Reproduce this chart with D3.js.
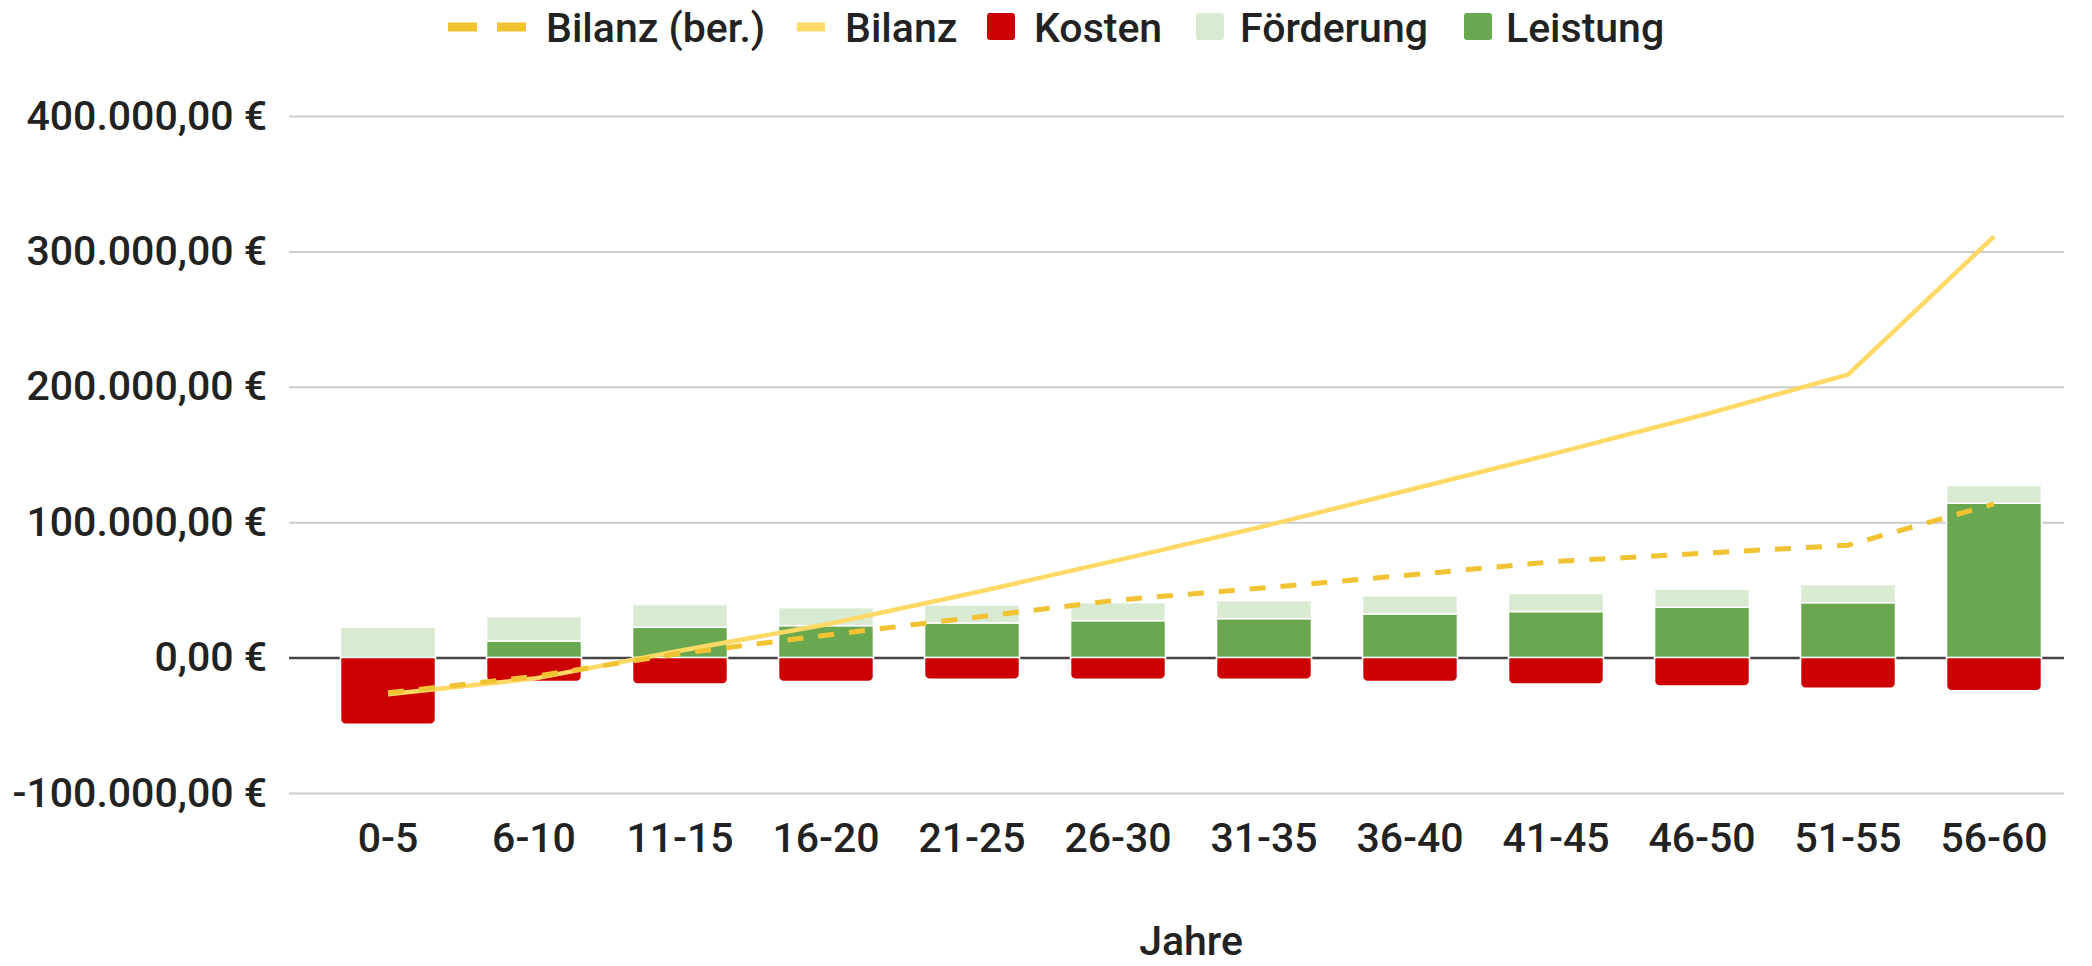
<!DOCTYPE html>
<html>
<head>
<meta charset="utf-8">
<script src="https://cdn.jsdelivr.net/npm/d3@7"></script>
<style>
  body { margin: 0; background: #fff; }
  text { font-family: Roboto, "Noto Sans", sans-serif; fill: #222; font-weight: 500; }
</style>
</head>
<body>
<script>
// data
const categories = ["0-5", "6-10", "11-15", "16-20", "21-25", "26-30", "31-35", "36-40", "41-45", "46-50", "51-55", "56-60"];
const leistung   = [0, 12300, 22400, 23600, 25600, 27300, 28800, 32300, 34000, 37200, 40600, 114000];
const foerderung = [22400, 18000, 16800, 13300, 13300, 13300, 13300, 13300, 13300, 13300, 13300, 13100];
const kosten     = [-49300, -17700, -19500, -17700, -16000, -16000, -16000, -17700, -19500, -20900, -22700, -24400];
const bilanz     = [-27000, -15500, 5000, 24500, 47500, 72000, 97000, 124000, 151000, 179000, 209000, 311000];
const bilanzBer  = [-26000, -14000, 3000, 16500, 29500, 42500, 51500, 61000, 71000, 77000, 83000, 113500];
const yTicks     = [-100000, 0, 100000, 200000, 300000, 400000];

const width = 2092;
const height = 966;
const gridLeft = 289, gridRight = 2064;

const svg = d3.select("body")
    .append("svg")
    .attr("width", width)
    .attr("height", height);

const de = d3.formatLocale({
    decimal: ",",
    thousands: ".",
    grouping: [3],
    currency: ["", " €"],
    minus: "-"
});
const fmt = de.format("$,.2f");

// X scale
const x = d3.scaleBand()
    .domain(categories)
    .range([315, 2067])
    .paddingInner(0.35)
    .paddingOuter(0.175);

// Y scale
const y = d3.scaleLinear()
    .domain([-100000, 400000])
    .range([793, 116]);

// y axis + gridlines
const yAxis = svg.append("g")
    .attr("transform", `translate(${gridLeft},0)`)
    .call(d3.axisLeft(y)
        .tickValues(yTicks)
        .tickSize(-(gridRight - gridLeft))
        .tickPadding(22)
        .tickFormat(fmt));
yAxis.select(".domain").remove();
yAxis.selectAll(".tick line")
    .attr("stroke", d => d === 0 ? "#444" : "#ccc")
    .attr("stroke-width", d => d === 0 ? 2.5 : 2);
yAxis.selectAll(".tick text")
    .attr("font-size", 41)
    .attr("fill", "#222")
    .attr("font-family", "Roboto, sans-serif");

// x axis
const xAxis = svg.append("g")
    .attr("transform", "translate(0,793)")
    .call(d3.axisBottom(x).tickSize(0).tickPadding(30));
xAxis.select(".domain").remove();
xAxis.selectAll(".tick text")
    .attr("font-size", 41)
    .attr("fill", "#222")
    .attr("font-family", "Roboto, sans-serif");

// axis title
svg.append("text")
    .attr("x", (x.range()[0] + x.range()[1]) / 2)
    .attr("y", 955)
    .attr("text-anchor", "middle")
    .attr("font-size", 41)
    .text("Jahre");

const bw = x.bandwidth();

// Leistung (green)
svg.selectAll(".leistung")
    .data(leistung)
    .enter()
    .append("rect")
    .attr("x", (d, i) => x(categories[i]))
    .attr("y", d => y(d))
    .attr("width", bw)
    .attr("height", d => y(0) - y(d))
    .attr("fill", "#6aa84f")
    .attr("stroke", "#fff")
    .attr("stroke-width", 1.5);

// Förderung on top of Leistung
svg.selectAll(".foerderung")
    .data(foerderung)
    .enter()
    .append("rect")
    .attr("x", (d, i) => x(categories[i]))
    .attr("y", (d, i) => y(leistung[i] + d))
    .attr("width", bw)
    .attr("height", (d, i) => y(leistung[i]) - y(leistung[i] + d))
    .attr("fill", "#d9ead3")
    .attr("stroke", "#fff")
    .attr("stroke-width", 1.5);

// Kosten, rounded at the bottom
function roundedBottom(x0, y0, w, h, r) {
    return `M${x0},${y0}H${x0 + w}V${y0 + h - r}` +
        `A${r},${r} 0 0 1 ${x0 + w - r},${y0 + h}H${x0 + r}` +
        `A${r},${r} 0 0 1 ${x0},${y0 + h - r}Z`;
}
svg.selectAll(".kosten")
    .data(kosten)
    .enter()
    .append("path")
    .attr("d", (d, i) => roundedBottom(x(categories[i]), y(0), bw, y(d) - y(0), 5))
    .attr("fill", "#cc0000")
    .attr("stroke", "#fff")
    .attr("stroke-width", 1.5);

// lines
const line = d3.line()
    .x((d, i) => x(categories[i]) + bw / 2)
    .y(d => y(d));

svg.append("path")
    .datum(bilanz)
    .attr("fill", "none")
    .attr("stroke", "#ffd966")
    .attr("stroke-width", 4.5)
    .attr("stroke-linejoin", "round")
    .attr("d", line);

svg.append("path")
    .datum(bilanzBer)
    .attr("fill", "none")
    .attr("stroke", "#f1c232")
    .attr("stroke-width", 5)
    .attr("stroke-dasharray", "16,15")
    .attr("d", line);

// legend
const legend = svg.append("g");

legend.append("line")
    .attr("x1", 448).attr("x2", 526)
    .attr("y1", 27).attr("y2", 27)
    .attr("stroke", "#f1c232")
    .attr("stroke-width", 9)
    .attr("stroke-dasharray", "29,20");
legend.append("text").attr("x", 546).attr("y", 42).attr("font-size", 41).text("Bilanz (ber.)");

legend.append("line")
    .attr("x1", 797).attr("x2", 825)
    .attr("y1", 27).attr("y2", 27)
    .attr("stroke", "#ffd966")
    .attr("stroke-width", 9);
legend.append("text").attr("x", 845).attr("y", 42).attr("font-size", 41).text("Bilanz");

const squares = [
    {x: 987, label: "Kosten", tx: 1034, color: "#cc0000"},
    {x: 1196, label: "Förderung", tx: 1240, color: "#d9ead3"},
    {x: 1464, label: "Leistung", tx: 1506, color: "#6aa84f"}
];
legend.selectAll(".sq")
    .data(squares)
    .enter()
    .append("rect")
    .attr("x", d => d.x)
    .attr("y", 13)
    .attr("width", 28)
    .attr("height", 27)
    .attr("rx", 3)
    .attr("fill", d => d.color);
legend.selectAll(".lbl")
    .data(squares)
    .enter()
    .append("text")
    .attr("x", d => d.tx)
    .attr("y", 42)
    .attr("font-size", 41)
    .text(d => d.label);
</script>
</body>
</html>
